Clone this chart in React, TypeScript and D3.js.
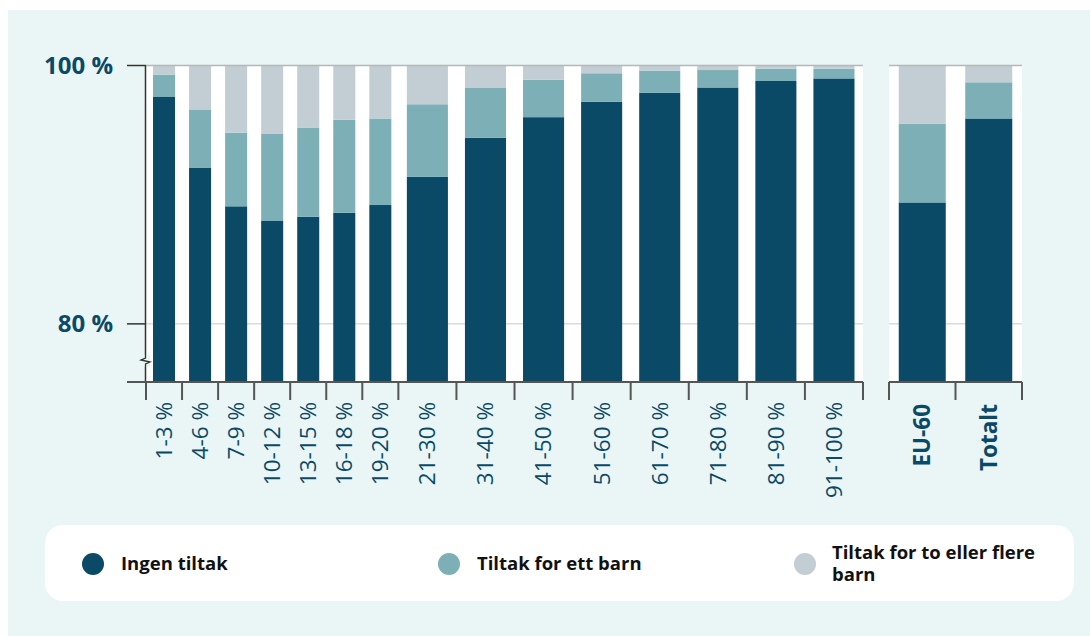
import React from 'react';
import * as d3 from 'd3';

// income-share groups (first panel) and summary groups (second panel)
const categories = ["1-3 %", "4-6 %", "7-9 %", "10-12 %", "13-15 %", "16-18 %", "19-20 %", "21-30 %", "31-40 %", "41-50 %", "51-60 %", "61-70 %", "71-80 %", "81-90 %", "91-100 %"];
const summaryCategories = ["EU-60", "Totalt"];

const ingenTiltak = [97.6, 92.1, 89.1, 88.0, 88.3, 88.6, 89.2, 91.4, 94.4, 96.0, 97.2, 97.9, 98.3, 98.8, 99.0];
const tiltakEttBarn = [1.7, 4.5, 5.7, 6.7, 6.9, 7.2, 6.7, 5.6, 3.9, 2.9, 2.2, 1.7, 1.35, 0.95, 0.75];
const tiltakFlereBarn = [0.7, 3.4, 5.2, 5.3, 4.8, 4.2, 4.1, 3.0, 1.7, 1.1, 0.6, 0.4, 0.35, 0.25, 0.25];

const summaryIngen = [89.4, 95.9];
const summaryEtt = [6.1, 2.8];
const summaryFlere = [4.5, 1.3];

const yTicks = [80, 100];
const seriesNames = ["Ingen tiltak", "Tiltak for ett barn", "Tiltak for to eller flere barn"];

const colors = ["#0a4a67", "#7db0b6", "#c3cdd4"];
const textColor = "#0b4a67";
const font = "'Open Sans', 'Noto Sans', sans-serif";

const W = 1090, H = 636;
const top = 65.5, bottom = 382;
const p1 = { left: 146, right: 863 };
const p2 = { left: 889, right: 1022 };

type Row = { name: string; ingen: number; ett: number; flere: number };

const rows: Row[] = categories.map((c, i) => ({ name: c, ingen: ingenTiltak[i], ett: tiltakEttBarn[i], flere: tiltakFlereBarn[i] }));
const summaryRows: Row[] = summaryCategories.map((c, i) => ({ name: c, ingen: summaryIngen[i], ett: summaryEtt[i], flere: summaryFlere[i] }));

const keys = ["ingen", "ett", "flere"] as const;

// narrow bands for the small groups (upper bound <= 20), wider for the deciles
const upper = (c: string) => +c.replace(" %", "").split("-")[1];
const weight = (c: string) => (upper(c) <= 20 ? 1 : 58 / 36);

export default function App() {
  const y = d3.scaleLinear().domain([75.5, 100]).range([bottom, top]);

  const cum = d3.cumsum(categories.map(weight));
  const xw = d3.scaleLinear().domain([0, cum[cum.length - 1]]).range([p1.left, p1.right]);
  const bands1 = categories.map((c, i) => {
    const x0 = xw(i === 0 ? 0 : cum[i - 1]);
    const x1 = xw(cum[i]);
    const frac = upper(c) <= 20 ? 22 / 36 : 41 / 58;
    const bw = (x1 - x0) * frac;
    return { x0, x1, bx: (x0 + x1) / 2 - bw / 2, bw };
  });

  const x2 = d3.scaleBand().domain(summaryCategories).range([p2.left, p2.right]);
  const bands2 = summaryCategories.map((c) => {
    const x0 = x2(c)!;
    const x1 = x0 + x2.bandwidth();
    const bw = x2.bandwidth() * 0.707;
    return { x0, x1, bx: (x0 + x1) / 2 - bw / 2, bw };
  });

  const stack = d3.stack<Row>().keys(keys as any);
  const s1 = stack(rows);
  const s2 = stack(summaryRows);

  const clipY = (v: number) => y(Math.max(v, y.domain()[0]));

  const drawBars = (series: d3.Series<Row, string>[], bands: { bx: number; bw: number }[]) =>
    series.map((s, si) => (
      <g key={si} fill={colors[si]}>
        {s.map((d, i) => (
          <rect key={i} x={bands[i].bx} width={bands[i].bw} y={clipY(d[1])} height={clipY(d[0]) - clipY(d[1])} />
        ))}
      </g>
    ));

  const tickLines = (bands: { x0: number; x1: number }[]) => {
    const xs = [bands[0].x0, ...bands.map((b) => b.x1)];
    return xs.map((x, i) => <line key={i} x1={x} x2={x} y1={bottom} y2={400} stroke="#555" strokeWidth={2} />);
  };

  const legendX = [93, 449, 805];

  return (
    <svg width={W} height={H} style={{ position: 'absolute', left: 0, top: 0 }} fontFamily={font}>
      <rect x={8} y={10} width={W - 8} height={H - 10} fill="#eaf5f5" />

      {/* plot backgrounds */}
      <rect x={p1.left} y={top} width={p1.right - p1.left} height={bottom - top} fill="#fff" />
      <rect x={p2.left} y={top} width={p2.right - p2.left} height={bottom - top} fill="#fff" />

      {/* gridline at 80 % */}
      {[p1, p2].map((p, i) => (
        <line key={i} x1={p.left} x2={p.right} y1={y(80)} y2={y(80)} stroke="#c8c8c8" strokeWidth={1} />
      ))}

      {drawBars(s1 as any, bands1)}
      {drawBars(s2 as any, bands2)}

      {/* top line at 100 % */}
      {[p1, p2].map((p, i) => (
        <line key={i} x1={p.left} x2={p.right} y1={y(100)} y2={y(100)} stroke="#b4b8b8" strokeWidth={1.5} />
      ))}

      {/* y axis */}
      <line x1={145.5} x2={145.5} y1={top} y2={bottom} stroke="#333" strokeWidth={1.5} />
      {yTicks.map((t) => (
        <g key={t}>
          <line x1={127} x2={146} y1={y(t)} y2={y(t)} stroke="#333" strokeWidth={1.5} />
          <text x={113} y={y(t)} dy="0.35em" textAnchor="end" fontSize={24} fontWeight={700} fill={textColor}>
            {t} %
          </text>
        </g>
      ))}
      {/* axis break */}
      <rect x={141} y={355} width={9} height={12} fill="#eaf5f5" />
      <path d="M145.5,355 L145.5,358 L141,360 L150,362 L145.5,364 L145.5,367" fill="none" stroke="#333" strokeWidth={1.3} />

      {/* x axes */}
      <line x1={127} x2={p1.right} y1={bottom} y2={bottom} stroke="#555" strokeWidth={2} />
      <line x1={p2.left} x2={p2.right} y1={bottom} y2={bottom} stroke="#555" strokeWidth={2} />
      {tickLines(bands1)}
      {tickLines(bands2)}

      {categories.map((c, i) => {
        const cx = (bands1[i].x0 + bands1[i].x1) / 2;
        return (
          <text key={c} transform={`translate(${cx},402) rotate(-90)`} dy="0.35em" textAnchor="end" fontSize={22.5} fill={textColor}>
            {c}
          </text>
        );
      })}
      {summaryCategories.map((c, i) => {
        const cx = (bands2[i].x0 + bands2[i].x1) / 2;
        return (
          <text key={c} transform={`translate(${cx},404) rotate(-90)`} dy="0.35em" textAnchor="end" fontSize={22.5} fontWeight={700} fill={textColor}>
            {c}
          </text>
        );
      })}

      {/* legend */}
      <rect x={45} y={525} width={1029} height={76} rx={18} fill="#fff" />
      {seriesNames.map((n, i) => (
        <g key={n}>
          <circle cx={legendX[i]} cy={564} r={11} fill={colors[i]} />
          {i < 2 ? (
            <text x={legendX[i] + 28} y={564} dy="0.35em" fontSize={18.5} fontWeight={700} fill="#111">
              {n}
            </text>
          ) : (
            <text x={legendX[i] + 27} y={553} dy="0.35em" fontSize={18.5} fontWeight={700} fill="#111">
              <tspan x={legendX[i] + 27}>Tiltak for to eller flere</tspan>
              <tspan x={legendX[i] + 27} dy={22}>barn</tspan>
            </text>
          )}
        </g>
      ))}
    </svg>
  );
}
